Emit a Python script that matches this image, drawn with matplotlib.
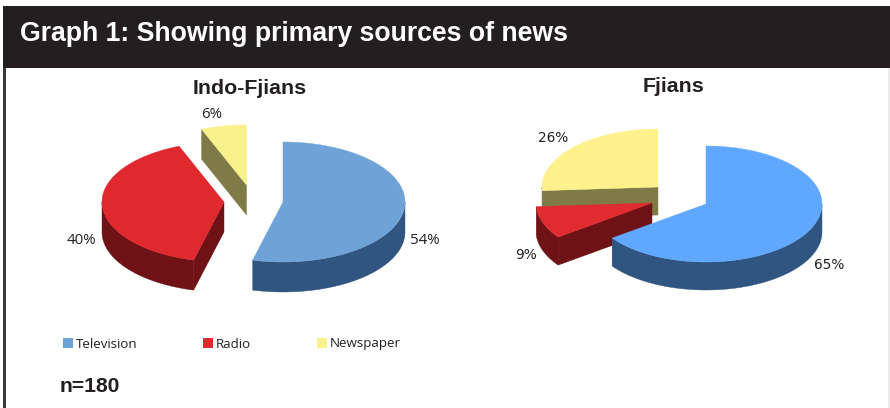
import numpy as np
import matplotlib
matplotlib.use("Agg")
import matplotlib.pyplot as plt
from matplotlib.patches import Polygon, Patch, Rectangle

# Survey shares, percent
categories = ["Television", "Radio", "Newspaper"]
indo_fijians = [54, 40, 6]
fijians = [65, 9, 26]
sample_note = "n=180"
heading = "Graph 1: Showing primary sources of news"

INK = "#231f20"
WALL = {"Television": "#2f5580", "Radio": "#6e1215", "Newspaper": "#7f7a46"}
LEGEND_COLOURS = ["#6fa3d8", "#e0282f", "#f9f18c"]


def ring(cx, cy, rx, ry, a0, a1, n=120):
    t = np.radians(np.linspace(a0, a1, n))
    return np.column_stack([cx + rx * np.cos(t), cy - ry * np.sin(t)])


def draw_pie(ax, values, layout, tops, label_pos, label_font):
    """Extruded elliptical pie; slices run clockwise from twelve o'clock."""
    rx, ry, depth = layout["rx"], layout["ry"], layout["depth"]
    cum = np.cumsum([0] + list(values))
    # back slices first so that nearer ones paint over them
    for i in layout["paint_order"]:
        name = categories[i]
        cx, cy = layout["centres"][i]
        start = 90 - 3.6 * cum[i]
        end = 90 - 3.6 * cum[i + 1]
        z = 2 + layout["paint_order"].index(i) * 3
        wall = WALL[name]

        def face(angle):
            p = ring(cx, cy, rx, ry, angle, angle, 1)[0]
            return [(cx, cy), p, p + [0, depth], (cx, cy + depth)]

        if np.cos(np.radians(start)) < 0:
            ax.add_patch(Polygon(face(start), fc=wall, ec=wall, lw=0.3, zorder=z))
        if np.cos(np.radians(end)) > 0:
            ax.add_patch(Polygon(face(end), fc=wall, ec=wall, lw=0.3, zorder=z))

        # outer wall: only the part of the rim on the near side of the ellipse
        for k in range(-2, 2):
            a = max(end, -180 + 360 * k)
            b = min(start, 360 * k)
            if b > a:
                rim = ring(cx, cy, rx, ry, a, b)
                outline = np.vstack([rim, (rim + [0, depth])[::-1]])
                ax.add_patch(Polygon(outline, fc=wall, ec=wall, lw=0.3, zorder=z + 1))

        top = np.vstack([[(cx, cy)], ring(cx, cy, rx, ry, start, end)])
        ax.add_patch(Polygon(top, fc=tops[i], ec=tops[i], lw=0.3, zorder=z + 2))

        x, y = label_pos[i]
        ax.text(x, y, f"{values[i]}%", ha="center", va="center", zorder=20,
                color=INK, **label_font)


fig = plt.figure(figsize=(8.9, 4.08), dpi=100, facecolor="white")
ax = fig.add_axes([0, 0, 1, 1])
ax.set_xlim(0, 890)
ax.set_ylim(408, 0)
ax.axis("off")

# Header band and panel frame
ax.add_patch(Rectangle((3, 6), 887, 62, fc=INK, ec="none", zorder=1))
ax.add_patch(Rectangle((3, 68), 3, 340, fc="#3a3738", ec="none", zorder=1))
ax.add_patch(Rectangle((888, 68), 2, 340, fc="#ececec", ec="none", zorder=1))
ax.text(20, 34, heading, color="white", fontsize=19.2, fontweight="bold",
        family="Liberation Sans", ha="left", va="center", zorder=2)

ax.text(249.5, 88, "Indo-Fjians", color=INK, fontsize=15.4, fontweight="bold",
        family="Liberation Sans", ha="center", va="center")
ax.text(673.5, 86, "Fjians", color=INK, fontsize=15.4, fontweight="bold",
        family="Liberation Sans", ha="center", va="center")

indo_layout = dict(rx=122, ry=60, depth=30, paint_order=[2, 1, 0],
                   centres=[(283, 202), (224, 202), (246.5, 185)])
draw_pie(ax, indo_fijians, indo_layout,
         ["#6fa3d8", "#e0282f", "#f9f18c"],
         [(425, 240), (81.5, 240), (212, 114.5)],
         dict(family="Open Sans", fontsize=10.8))

fiji_layout = dict(rx=116, ry=58, depth=28, paint_order=[2, 1, 0],
                   centres=[(706, 204), (652, 203), (658, 187)])
draw_pie(ax, fijians, fiji_layout,
         ["#60a8ff", "#e02c30", "#fff18c"],
         [(829.5, 265), (526, 255), (553, 137.5)],
         dict(family="DejaVu Sans", fontsize=9.8))

# Shared legend
handles = [Patch(fc=c, ec="none", label=n) for c, n in zip(LEGEND_COLOURS, categories)]
leg = ax.legend(handles=handles, loc="center left", bbox_to_anchor=(63, 344),
                bbox_transform=ax.transData, ncol=3, frameon=False, borderpad=0,
                borderaxespad=0, handlelength=0.75, handleheight=0.75,
                handletextpad=0.22, columnspacing=4.92,
                prop=dict(family="Open Sans", size=9.6))
for t in leg.get_texts():
    t.set_color(INK)

ax.text(60, 386, sample_note, color=INK, fontsize=15.2, fontweight="bold",
        family="Liberation Sans", ha="left", va="center")

fig.savefig("out.png", dpi=100)
